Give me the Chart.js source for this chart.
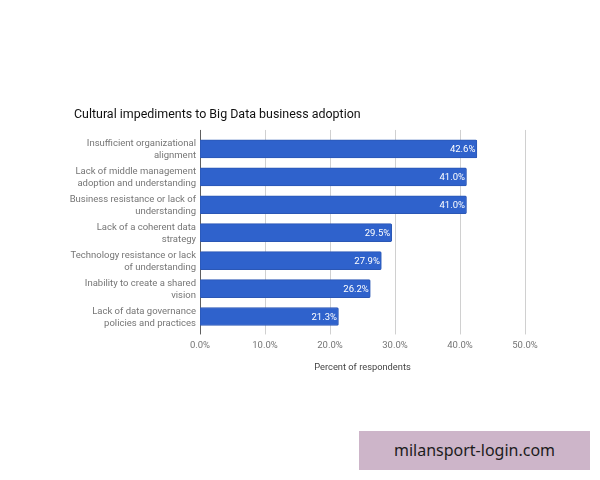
<!DOCTYPE html>
<html>
<head>
<meta charset="utf-8">
<title>Cultural impediments to Big Data business adoption</title>
<script src="https://cdn.jsdelivr.net/npm/chart.js@4/dist/chart.umd.min.js"></script>
<style>
    html, body { margin: 0; padding: 0; background: #fff; }
    #wrap { position: relative; width: 600px; height: 480px; overflow: hidden; }
    #grafico { display: block; }
    #marca {
        position: absolute; left: 359px; top: 431px; width: 231px; height: 39px;
        background: #cdb5c9; color: #1c1c1c;
        font: 16px "Noto Sans", sans-serif; line-height: 39px; text-align: center;
    }
</style>
</head>
<body>
<div id="wrap">
    <canvas id="grafico" width="600" height="480"></canvas>
    <div id="marca">milansport-login.com</div>
</div>
<script>
const categorias = [
    ["Insufficient organizational", "alignment"],
    ["Lack of middle management", "adoption and understanding"],
    ["Business resistance or lack of", "understanding"],
    ["Lack of a coherent data", "strategy"],
    ["Technology resistance or lack", "of understanding"],
    ["Inability to create a shared", "vision"],
    ["Lack of data governance", "policies and practices"]
];
const valores = [42.6, 41.0, 41.0, 29.5, 27.9, 26.2, 21.3];
const ticksX = [0, 10, 20, 30, 40, 50];

const FUENTE = "Roboto";

// Grid lines stick out a little past the plot, so they are drawn here
const lineasPlugin = {
    id: "lineas",
    afterLayout(chart) {
        // the title starts at x=74 but the labels must not be clipped there
        chart.scales.y.left = 0;
    },
    beforeDatasetsDraw(chart) {
        const ctx = chart.ctx;
        const x = chart.scales.x;
        const area = chart.chartArea;
        ctx.save();
        ctx.lineWidth = 1;
        ticksX.forEach(function (t) {
            const px = Math.round(x.getPixelForValue(t)) + 0.5;
            ctx.strokeStyle = t === 0 ? "#5f5f5f" : "#d0d0d0";
            ctx.beginPath();
            ctx.moveTo(px, area.top - 5);
            ctx.lineTo(px, area.bottom + 4);
            ctx.stroke();
        });
        ctx.restore();
    }
};

// Value labels inside the end of each bar
const etiquetasPlugin = {
    id: "etiquetas",
    afterDatasetsDraw(chart) {
        const ctx = chart.ctx;
        ctx.save();
        ctx.font = "9.5px " + FUENTE;
        ctx.fillStyle = "#ffffff";
        ctx.textAlign = "right";
        ctx.textBaseline = "middle";
        chart.getDatasetMeta(0).data.forEach(function (bar, i) {
            ctx.fillText(valores[i].toFixed(1) + "%", bar.x - 1.5, bar.y + 1);
        });
        ctx.restore();
    }
};

new Chart(document.getElementById("grafico").getContext("2d"), {
    type: "bar",
    data: {
        labels: categorias,
        datasets: [{
            data: valores,
            backgroundColor: "#2f62cc",
            borderColor: "#2b57b5",
            borderWidth: 1,
            borderRadius: 1.5,
            borderSkipped: false,
            barThickness: 18
        }]
    },
    options: {
        indexAxis: "y",
        responsive: false,
        animation: false,
        layout: { padding: { left: 74, right: 75, top: 0, bottom: 107 } },
        plugins: {
            legend: { display: false },
            tooltip: { enabled: false },
            title: {
                display: true,
                text: "Cultural impediments to Big Data business adoption",
                align: "start",
                color: "#111111",
                font: { family: FUENTE, size: 12.45, weight: "normal" },
                padding: { top: 107.5, bottom: 12.5 }
            }
        },
        scales: {
            x: {
                min: 0,
                max: 50,
                grid: { display: false, drawTicks: false },
                border: { display: false },
                afterBuildTicks(scale) {
                    scale.ticks = ticksX.map(function (v) { return { value: v }; });
                },
                ticks: {
                    color: "#757575",
                    font: { family: FUENTE, size: 9.5 },
                    padding: 9,
                    maxRotation: 0,
                    callback: function (v) { return v.toFixed(1) + "%"; }
                },
                title: {
                    display: true,
                    text: "Percent of respondents",
                    color: "#444444",
                    font: { family: FUENTE, size: 9.3 },
                    padding: { top: 2, bottom: 0 }
                }
            },
            y: {
                grid: { display: false, drawTicks: false },
                border: { display: false },
                afterFit(scale) { scale.width = 126; },
                ticks: {
                    color: "#757575",
                    font: { family: FUENTE, size: 9.5, lineHeight: 1.25 },
                    padding: 4,
                    labelOffset: 1,
                    autoSkip: false
                }
            }
        }
    },
    plugins: [lineasPlugin, etiquetasPlugin]
});
</script>
</body>
</html>
